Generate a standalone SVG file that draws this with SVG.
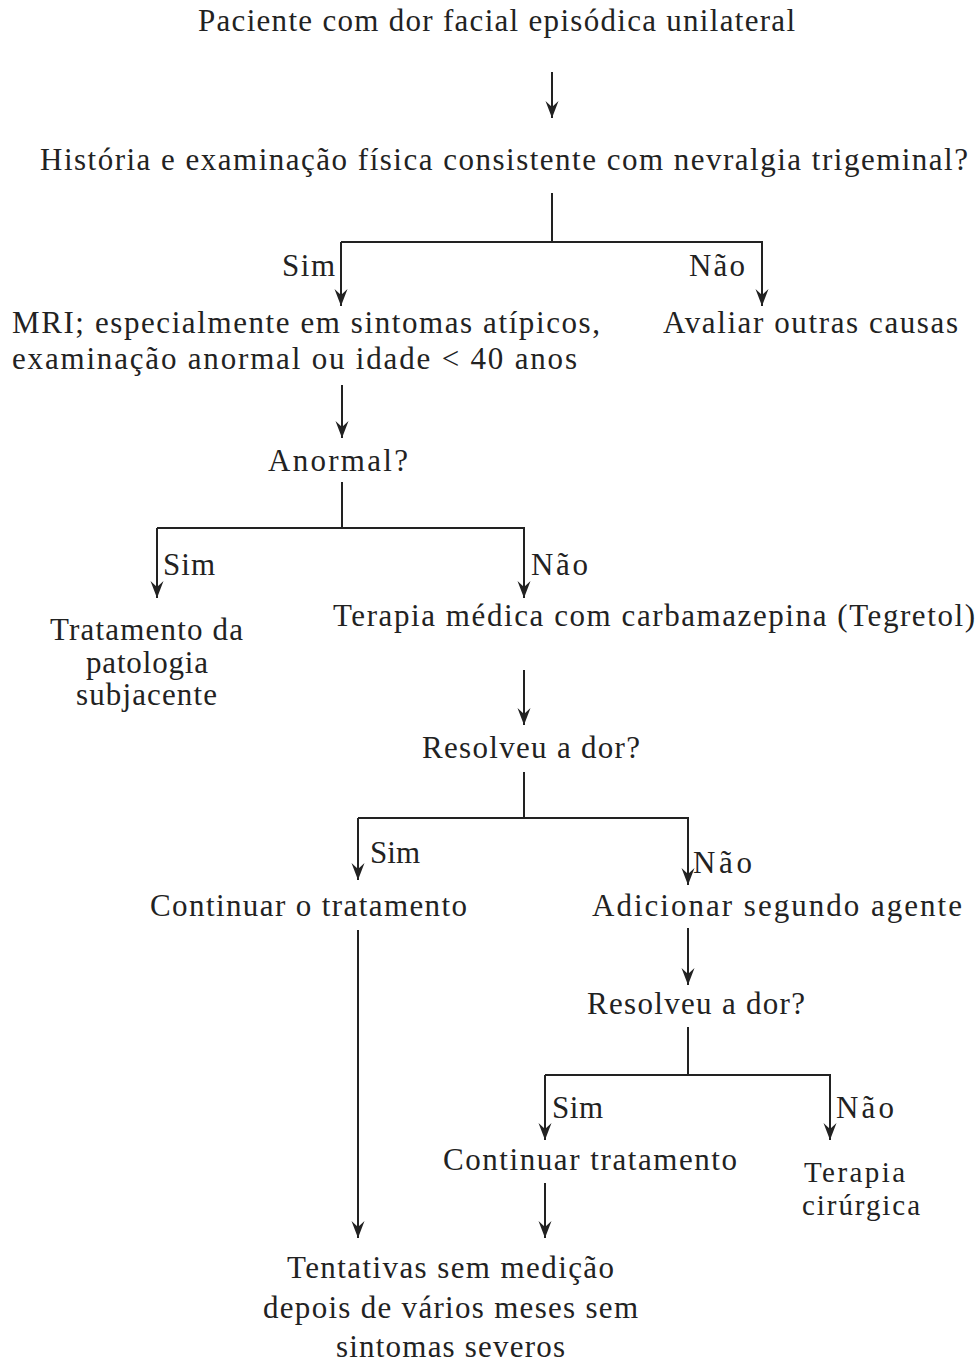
<svg xmlns="http://www.w3.org/2000/svg" width="980" height="1363" viewBox="0 0 980 1363">
  <style>
    text { font-family: "Liberation Serif", "DejaVu Serif", serif; font-size: 31px; fill: #222; }
    .lbl { font-size: 31px; }
    .tight { font-size: 29px; }
    .wire { stroke: #222; stroke-width: 2; fill: none; }
    .arr { stroke: #222; stroke-width: 2; fill: none; marker-end: url(#head); }
  </style>
  <defs>
    <!-- barbed arrowhead, tip on the line end -->
    <marker id="head" markerUnits="userSpaceOnUse" viewBox="-18 -8 19 16" refX="0" refY="0" markerWidth="19" markerHeight="16" orient="auto">
      <path d="M0,0 L-17,-6.5 L-11,0 L-17,6.5 Z" fill="#222"/>
    </marker>
  </defs>
  <rect width="980" height="1363" fill="#ffffff"/>

  <!-- connectors -->
  <g id="connectors">
    <line class="arr" x1="552" y1="72" x2="552" y2="118"/>
    <polyline class="wire" points="552,193 552,242"/>
    <polyline class="arr" points="341,242 762,242 762,306"/>
    <line class="arr" x1="341" y1="242" x2="341" y2="306"/>
    <line class="arr" x1="342" y1="385" x2="342" y2="438"/>
    <polyline class="wire" points="342,482 342,528"/>
    <polyline class="arr" points="157,528 524,528 524,598"/>
    <line class="arr" x1="157" y1="528" x2="157" y2="598"/>
    <line class="arr" x1="524" y1="670" x2="524" y2="725"/>
    <polyline class="wire" points="524,772 524,818"/>
    <polyline class="arr" points="358,818 688,818 688,885"/>
    <line class="arr" x1="358" y1="818" x2="358" y2="880"/>
    <line class="arr" x1="358" y1="930" x2="358" y2="1238"/>
    <line class="arr" x1="688" y1="928" x2="688" y2="985"/>
    <polyline class="wire" points="688,1027 688,1075"/>
    <polyline class="arr" points="545,1075 830,1075 830,1140"/>
    <line class="arr" x1="545" y1="1075" x2="545" y2="1140"/>
    <line class="arr" x1="545" y1="1183" x2="545" y2="1238"/>
  </g>

  <!-- branch labels -->
  <g id="labels">
    <text class="lbl" x="282" y="276" textLength="53" lengthAdjust="spacing">Sim</text>
    <text class="lbl" x="689" y="276" textLength="56" lengthAdjust="spacing">Não</text>
    <text class="lbl" x="163" y="575" textLength="52" lengthAdjust="spacing">Sim</text>
    <text class="lbl" x="531" y="575" textLength="57" lengthAdjust="spacing">Não</text>
    <text class="lbl" x="370" y="863" textLength="50" lengthAdjust="spacing">Sim</text>
    <text class="lbl" x="693" y="873" textLength="59" lengthAdjust="spacing">Não</text>
    <text class="lbl" x="552" y="1118" textLength="51" lengthAdjust="spacing">Sim</text>
    <text class="lbl" x="836" y="1118" textLength="58" lengthAdjust="spacing">Não</text>
  </g>

  <g id="n-start">
    <text x="198" y="31" textLength="597" lengthAdjust="spacing">Paciente com dor facial episódica unilateral</text>
  </g>
  <g id="n-exam">
    <text x="40" y="170" textLength="928" lengthAdjust="spacing">História e examinação física consistente com nevralgia trigeminal?</text>
  </g>
  <g id="n-mri">
    <text x="12" y="333" textLength="588" lengthAdjust="spacing">MRI; especialmente em sintomas atípicos,</text>
    <text x="12" y="369" textLength="565" lengthAdjust="spacing">examinação anormal ou idade &lt; 40 anos</text>
  </g>
  <g id="n-other">
    <text x="663" y="333" textLength="295" lengthAdjust="spacing">Avaliar outras causas</text>
  </g>
  <g id="n-abnormal">
    <text x="268" y="471" textLength="140" lengthAdjust="spacing">Anormal?</text>
  </g>
  <g id="n-pathology">
    <text x="50" y="640" textLength="193" lengthAdjust="spacing">Tratamento da</text>
    <text x="86" y="673" textLength="122" lengthAdjust="spacing">patologia</text>
    <text x="76" y="705" textLength="141" lengthAdjust="spacing">subjacente</text>
  </g>
  <g id="n-carbamazepine">
    <text x="333" y="626" textLength="642" lengthAdjust="spacing">Terapia médica com carbamazepina (Tegretol)</text>
  </g>
  <g id="n-resolved1">
    <text x="422" y="758" textLength="218" lengthAdjust="spacing">Resolveu a dor?</text>
  </g>
  <g id="n-continue1">
    <text x="150" y="916" textLength="317" lengthAdjust="spacing">Continuar o tratamento</text>
  </g>
  <g id="n-second">
    <text x="592" y="916" textLength="370" lengthAdjust="spacing">Adicionar segundo agente</text>
  </g>
  <g id="n-resolved2">
    <text x="587" y="1014" textLength="218" lengthAdjust="spacing">Resolveu a dor?</text>
  </g>
  <g id="n-continue2">
    <text x="443" y="1170" textLength="294" lengthAdjust="spacing">Continuar tratamento</text>
  </g>
  <g id="n-surgery">
    <text class="tight" x="804" y="1182" textLength="101" lengthAdjust="spacing">Terapia</text>
    <text class="tight" x="802" y="1215" textLength="118" lengthAdjust="spacing">cirúrgica</text>
  </g>
  <g id="n-taper">
    <text x="287" y="1278" textLength="327" lengthAdjust="spacing">Tentativas sem medição</text>
    <text x="263" y="1318" textLength="375" lengthAdjust="spacing">depois de vários meses sem</text>
    <text x="336" y="1357" textLength="229" lengthAdjust="spacing">sintomas severos</text>
  </g>
</svg>
